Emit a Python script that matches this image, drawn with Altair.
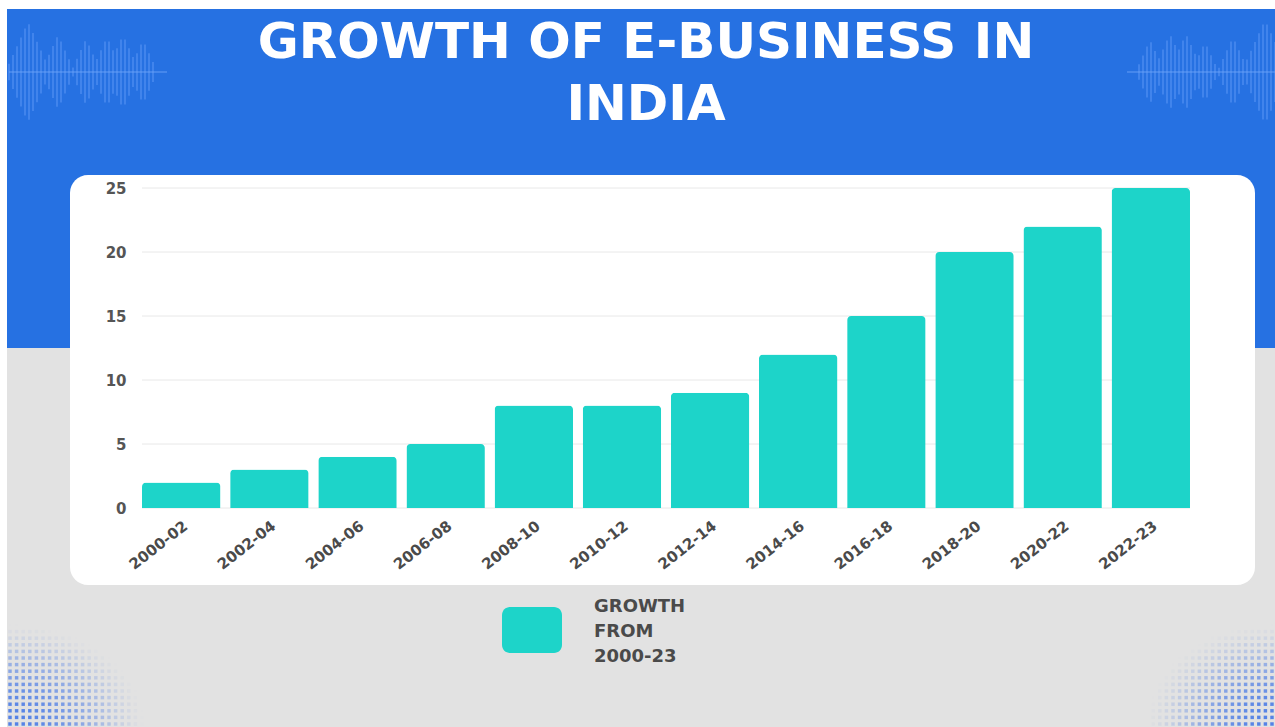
import altair as alt
import pandas as pd

periods = ["2000-02", "2002-04", "2004-06", "2006-08", "2008-10", "2010-12",
           "2012-14", "2014-16", "2016-18", "2018-20", "2020-22", "2022-23"]
growth = [2, 3, 4, 5, 8, 8, 9, 12, 15, 20, 22, 25]
title_lines = ["GROWTH OF E-BUSINESS IN", "INDIA"]
legend_lines = ["GROWTH", "FROM", "2000-23"]
y_ticks = [0, 5, 10, 15, 20, 25]

df = pd.DataFrame({"period": periods, "growth": growth})
grid_df = pd.DataFrame({"tick": y_ticks})
one = pd.DataFrame({"k": [0]})

L, T = 142, 188  # plot origin in page pixels
W, H = 1048, 320
FONT = "DejaVu Sans"
TEAL = "#1dd4c9"
BLUE = "#2671e2"


def rect(x0, y0, x1, y1, color, r=0):
    return alt.Chart(one).mark_rect(color=color, cornerRadius=r).encode(
        x=alt.value(x0 - L), x2=alt.value(x1 - L),
        y=alt.value(y0 - T), y2=alt.value(y1 - T))


# ---- decorative waveform (pixel space) ----
def wave_rows(x_start, x_end, centers, heights, cy, slope=2.2, step=4):
    rows = []
    x = x_start
    while x <= x_end:
        env = max(h - abs(x - c) * slope for c, h in zip(centers, heights))
        if env > 2:
            rows.append({"x": x - L, "y1": cy - env - T, "y2": cy + env - T})
        x += step
    return rows


wave = wave_rows(9, 167, [28, 58, 86, 107, 123, 143], [50, 37, 33, 35, 37, 32], 72)
wave += wave_rows(1127, 1275, [1150, 1170, 1186, 1205, 1233, 1265], [32, 38, 38, 30, 35, 52], 72)
wave_df = pd.DataFrame(wave)
wave_layer = alt.Chart(wave_df).mark_rule(color="#5b98f5", strokeWidth=2, opacity=0.5).encode(
    x=alt.X("x:Q", scale=None, axis=None),
    y=alt.Y("y1:Q", scale=None, axis=None), y2="y2:Q")
wave_lines = pd.DataFrame({"x1": [9 - L, 1127 - L], "x2": [167 - L, 1275 - L], "y": [72 - T, 72 - T]})
wave_center = alt.Chart(wave_lines).mark_rule(color="#6aa3f7", strokeWidth=1.5, opacity=0.6).encode(
    x=alt.X("x1:Q", scale=None, axis=None), x2="x2:Q",
    y=alt.Y("y:Q", scale=None, axis=None))

# ---- decorative halftone dots (pixel space) ----
dots = []
for cx, direction, rx in ((7, 1, 135), (1275, -1, 125)):
    for i in range(0, 24):
        for j in range(0, 16):
            px = cx + direction * (3 + i * 6.6)
            py = 724 - j * 6.6
            d = ((i * 6.6) / rx) ** 2 + ((j * 6.6) / 100) ** 2
            if d < 1:
                dots.append({"x": px - L, "y": py - T, "o": 0.85 * (1 - d) ** 1.5})
dots_df = pd.DataFrame(dots)
dots_layer = alt.Chart(dots_df).mark_square(color="#3a70e6", size=12, stroke=None).encode(
    x=alt.X("x:Q", scale=None, axis=None),
    y=alt.Y("y:Q", scale=None, axis=None),
    opacity=alt.Opacity("o:Q", scale=None, legend=None))

gray = rect(7, 9, 1275, 727, "#e2e2e2")
blue = rect(7, 9, 1275, 348, BLUE)
panel = rect(70, 175, 1255, 585, "#ffffff", 18)
legend_box = rect(502, 607, 562, 653, TEAL, 8)

grid = alt.Chart(grid_df).mark_rule(color="#e8e8e8", strokeWidth=1).encode(
    y=alt.Y("tick:Q", scale=alt.Scale(domain=[0, 25], nice=False), axis=None),
    x=alt.value(0), x2=alt.value(W))

title1 = alt.Chart(one).mark_text(
    text=title_lines[0], font=FONT, fontSize=50, fontWeight="bold", color="#ffffff",
    align="center", baseline="alphabetic").encode(x=alt.value(646 - L), y=alt.value(58 - T))
title2 = alt.Chart(one).mark_text(
    text=title_lines[1], font=FONT, fontSize=50, fontWeight="bold", color="#ffffff",
    align="center", baseline="alphabetic").encode(x=alt.value(646 - L), y=alt.value(120 - T))

legend_texts = [
    alt.Chart(one).mark_text(
        text=t, font=FONT, fontSize=18, fontWeight="bold", color="#4a4a4a",
        align="left", baseline="middle").encode(x=alt.value(594 - L), y=alt.value(607 + 25 * i - T))
    for i, t in enumerate(legend_lines)
]

bars = alt.Chart(df).mark_bar(color=TEAL, cornerRadiusTopLeft=4, cornerRadiusTopRight=4).encode(
    x=alt.X("period:N", sort=periods,
            scale=alt.Scale(paddingInner=0.11, paddingOuter=0),
            axis=alt.Axis(title=None, labelAngle=-38, domain=False, ticks=False,
                          labelFont=FONT, labelFontSize=15, labelColor="#4a4a4a",
                          labelFontWeight="bold", labelPadding=10, grid=False, zindex=1)),
    y=alt.Y("growth:Q", scale=alt.Scale(domain=[0, 25], nice=False),
            axis=alt.Axis(title=None, values=y_ticks, domain=False, ticks=False,
                          labelFont=FONT, labelFontSize=15, labelColor="#555555",
                          labelFontWeight="bold", labelPadding=16, grid=False, zindex=1)),
)

chart = alt.layer(
    gray, blue, wave_layer, wave_center, dots_layer, panel, grid, bars, legend_box,
    title1, title2, *legend_texts
).resolve_scale(x="independent", y="independent").properties(
    width=W, height=H,
    padding={"left": L, "top": T, "right": 1275 - L - W, "bottom": 727 - T - H},
    autosize=alt.AutoSizeParams(type="none"),
    background="#ffffff",
).configure_view(stroke=None)

chart.save("out.html", embed_options={"renderer": "svg", "actions": False})
